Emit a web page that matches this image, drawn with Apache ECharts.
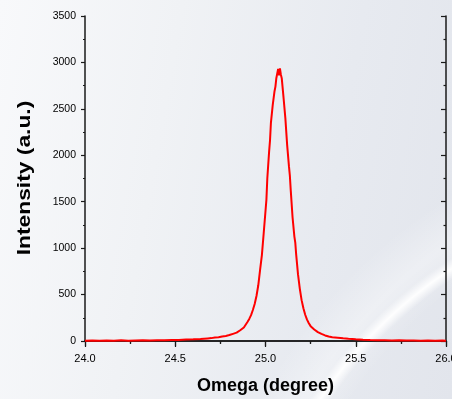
<html>
<head>
<meta charset="utf-8" />
<title>Omega scan</title>
<script src="https://cdn.jsdelivr.net/npm/echarts@6/dist/echarts.min.js"></script>
<style>
    html, body {
        margin: 0;
        padding: 0;
        width: 452px;
        height: 399px;
        overflow: hidden;
    }
    body {
        background:
            radial-gradient(circle 520px at 700px 650px, rgba(255,255,255,0) 446px, rgba(255,255,255,0.95) 455px, rgba(255,255,255,0) 464px),
            radial-gradient(circle 600px at 720px 640px, rgba(255,255,255,0) 440px, rgba(255,255,255,0.35) 480px, rgba(255,255,255,0) 520px),
            linear-gradient(100deg, #f8f9fb 0%, #f0f2f5 35%, #e7eaf0 70%, #e2e5ec 100%);
    }
    #chart {
        width: 452px;
        height: 399px;
    }
</style>
</head>
<body>
<div id="chart"></div>
<script>
    // omega (degree) and intensity (a.u.)
    const omega = [
        24.00, 24.04, 24.08, 24.12, 24.16, 24.20, 24.24, 24.28, 24.32, 24.36,
        24.40, 24.44, 24.48, 24.52, 24.56, 24.60, 24.64, 24.68, 24.70, 24.72,
        24.74, 24.76, 24.78, 24.80, 24.82, 24.84, 24.86, 24.88, 24.90, 24.91,
        24.92, 24.93, 24.94, 24.95, 24.96, 24.97, 24.98, 24.99, 25.00, 25.005,
        25.01, 25.02, 25.025, 25.03, 25.04, 25.05, 25.055, 25.06, 25.065, 25.07,
        25.075, 25.08, 25.085, 25.09, 25.10, 25.11, 25.12, 25.13, 25.135, 25.14,
        25.15, 25.16, 25.165, 25.17, 25.18, 25.19, 25.20, 25.21, 25.22, 25.23,
        25.24, 25.25, 25.27, 25.29, 25.31, 25.33, 25.35, 25.37, 25.40, 25.43,
        25.46, 25.50, 25.54, 25.58, 25.62, 25.66, 25.70, 25.74, 25.78, 25.82,
        25.86, 25.90, 25.94, 25.98, 26.00
    ];
    const intensity = [
        3, 6, 2, 5, 4, 7, 4, 6, 8, 5,
        9, 8, 12, 11, 16, 18, 22, 28, 31, 37,
        41, 49, 54, 64, 77, 90, 116, 146, 205, 238,
        278, 334, 398, 485, 600, 765, 925, 1160, 1400, 1520,
        1750, 2040, 2160, 2350, 2540, 2690, 2740, 2830, 2850, 2930,
        2860, 2935, 2870, 2830, 2620, 2400, 2110, 1880, 1780, 1620,
        1330, 1125, 1060, 930, 720, 565, 440, 352, 283, 230,
        192, 160, 124, 96, 76, 60, 49, 41, 36, 29,
        24, 18, 14, 11, 9, 8, 6, 7, 5, 6,
        4, 5, 3, 5, 4
    ];

    const xTicks = { min: 24, max: 26, interval: 0.5 };
    const yTicks = { min: 0, max: 3500, interval: 500 };

    const points = omega.map((x, i) => [x, intensity[i]]);

    const axisColor = '#1a1a1a';
    const fontFamily = '"Liberation Sans", Arial, sans-serif';

    let chart = echarts.init(document.getElementById('chart'), null, { renderer: 'canvas' });

    chart.setOption({
        backgroundColor: 'transparent',
        animation: false,
        grid: {
            left: 85,
            right: 6,
            top: 16,
            bottom: 58,
            containLabel: false,
            outerBoundsMode: 'none'
        },
        // y title is drawn as a stretched text, the original type is wider than Arial
        graphic: [
            {
                type: 'text',
                x: 25,
                y: 178,
                rotation: Math.PI / 2,
                scaleX: 1.2,
                style: {
                    text: 'Intensity (a.u.)',
                    font: 'bold 19px ' + fontFamily,
                    fill: '#000',
                    align: 'center',
                    verticalAlign: 'middle'
                }
            }
        ],
        xAxis: [
            {
                type: 'value',
                position: 'bottom',
                min: xTicks.min,
                max: xTicks.max,
                interval: xTicks.interval,
                name: 'Omega (degree)',
                nameLocation: 'middle',
                nameGap: 36,
                nameTextStyle: {
                    fontFamily: fontFamily,
                    fontWeight: 'bold',
                    fontSize: 18,
                    color: '#000'
                },
                axisLine: { lineStyle: { color: axisColor, width: 1.5 } },
                axisTick: { inside: false, length: 5, lineStyle: { color: axisColor, width: 1.2 } },
                minorTick: { show: true, splitNumber: 2, length: 2.5, lineStyle: { color: axisColor, width: 1.2 } },
                axisLabel: {
                    formatter: v => v.toFixed(1),
                    fontFamily: fontFamily,
                    fontSize: 11,
                    color: '#000',
                    margin: 12,
                    hideOverlap: false
                },
                splitLine: { show: false }
            },
            {
                type: 'value',
                position: 'top',
                min: xTicks.min,
                max: xTicks.max,
                interval: xTicks.interval,
                axisLine: { lineStyle: { color: axisColor, width: 1.5 } },
                axisTick: { inside: true, length: 6, lineStyle: { color: axisColor, width: 1.2 } },
                minorTick: { show: true, splitNumber: 2, length: 3, lineStyle: { color: axisColor, width: 1.2 } },
                axisLabel: { show: false },
                splitLine: { show: false }
            }
        ],
        yAxis: [
            {
                type: 'value',
                position: 'left',
                min: yTicks.min,
                max: yTicks.max,
                interval: yTicks.interval,
                axisLine: { show: true, lineStyle: { color: axisColor, width: 1.5 } },
                axisTick: { show: true, inside: false, length: 4, lineStyle: { color: axisColor, width: 1.2 } },
                minorTick: { show: true, splitNumber: 2, length: 2, lineStyle: { color: axisColor, width: 1.2 } },
                axisLabel: {
                    formatter: v => String(v),
                    fontFamily: fontFamily,
                    fontSize: 10.5,
                    color: '#000',
                    margin: 9
                },
                splitLine: { show: false }
            },
            {
                type: 'value',
                position: 'right',
                min: yTicks.min,
                max: yTicks.max,
                interval: yTicks.interval,
                axisLine: { show: true, lineStyle: { color: axisColor, width: 1.5 } },
                axisTick: { show: true, inside: true, length: 5, lineStyle: { color: axisColor, width: 1.2 } },
                minorTick: { show: true, splitNumber: 2, length: 2.5, lineStyle: { color: axisColor, width: 1.2 } },
                axisLabel: { show: false },
                splitLine: { show: false }
            }
        ],
        series: [
            {
                type: 'line',
                xAxisIndex: 0,
                yAxisIndex: 0,
                data: points,
                showSymbol: false,
                smooth: false,
                lineStyle: { color: '#ff0000', width: 2 },
                z: 3
            }
        ]
    });
</script>
</body>
</html>
